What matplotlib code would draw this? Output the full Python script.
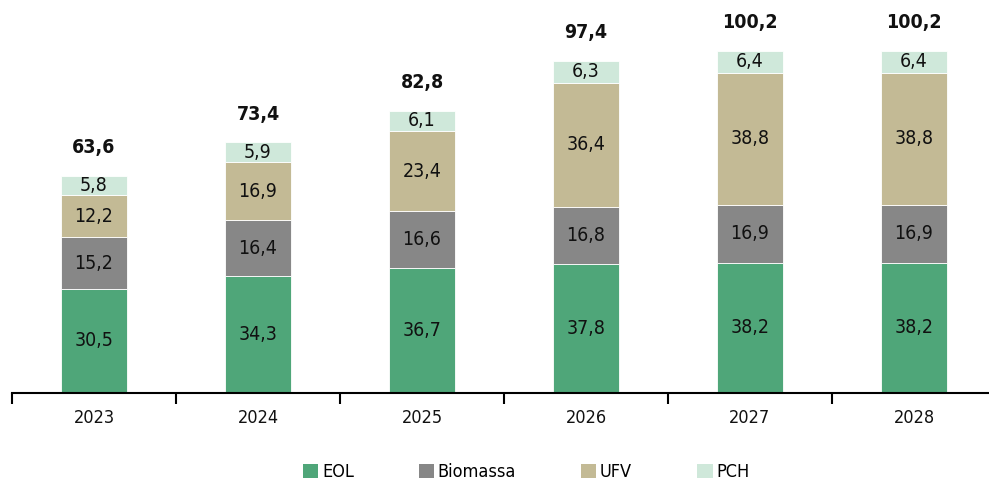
import numpy as np
import matplotlib.pyplot as plt
from matplotlib.patches import Patch

plt.rcParams['font.family'] = ['DejaVu Sans']
plt.rcParams['font.stretch'] = 'condensed'

years = ['2023', '2024', '2025', '2026', '2027', '2028']
eol = [30.5, 34.3, 36.7, 37.8, 38.2, 38.2]
biomassa = [15.2, 16.4, 16.6, 16.8, 16.9, 16.9]
ufv = [12.2, 16.9, 23.4, 36.4, 38.8, 38.8]
pch = [5.8, 5.9, 6.1, 6.3, 6.4, 6.4]
totals = [63.6, 73.4, 82.8, 97.4, 100.2, 100.2]

series = [('EOL', eol, '#4fa679'), ('Biomassa', biomassa, '#878787'),
          ('UFV', ufv, '#c3ba95'), ('PCH', pch, '#cfe8da')]

fig = plt.figure(figsize=(9.89, 4.88), dpi=100)
ax = fig.add_axes([12 / 989, 95 / 488, 984 / 989, 393 / 488])

x = np.arange(len(years))
bottom = np.zeros(len(years))
for name, vals, color in series:
    vals = np.array(vals)
    ax.bar(x, vals, width=0.405, bottom=bottom, color=color, edgecolor='white', linewidth=0.6)
    for xi, b, v in zip(x, bottom, vals):
        ax.text(xi, b + v / 2, f'{v:.1f}'.replace('.', ','), ha='center', va='center',
                fontsize=14, color='#111111')
    bottom += vals

# totals above each stack
for xi, t in zip(x, totals):
    ax.text(xi, t + 8.3, f'{t:.1f}'.replace('.', ','), ha='center', va='center',
            fontsize=14, fontweight='bold', color='#111111')

ax.set_xlim(-0.5, 5.5)
ax.set_ylim(0, 115.2)
ax.set_yticks([])
for s in ['top', 'right', 'left']:
    ax.spines[s].set_visible(False)
ax.spines['bottom'].set_linewidth(1.5)
ax.set_xticks(np.arange(-0.5, 6, 1))
ax.set_xticklabels([])
ax.tick_params(axis='x', length=8, width=1.5, direction='out', bottom=True)
for xi, yr in zip(x, years):
    ax.text(xi, -7.3, yr, ha='center', va='center', fontsize=13, color='#111111')

handles = [Patch(facecolor=c, label=n) for n, _, c in series]
fig.legend(handles=handles, loc='center', bbox_to_anchor=(0.532, 16 / 488), ncol=4,
           frameon=False, fontsize=13, handlelength=0.85, handleheight=0.85,
           handletextpad=0.2, columnspacing=3.6)

fig.savefig('out.png', dpi=100)
